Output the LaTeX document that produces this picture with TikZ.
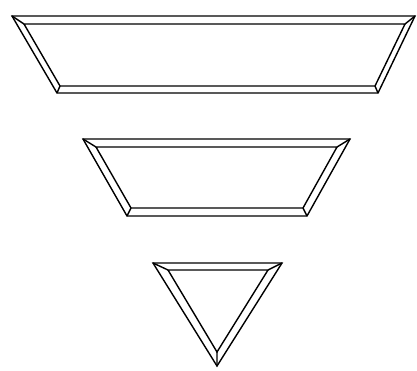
\documentclass[tikz,border=0pt]{standalone}
\begin{document}
\begin{tikzpicture}[x=1pt,y=-1pt,
  frame/.style={draw=black,line width=1.4pt,line join=miter}]
\useasboundingbox (0,0) rectangle (417,370);
% top trapezoid
\coordinate (a1) at (12,16); \coordinate (a2) at (415,16);
\coordinate (a3) at (378,93); \coordinate (a4) at (57,93);
\coordinate (b1) at (24,24); \coordinate (b2) at (405,24);
\coordinate (b3) at (375,86); \coordinate (b4) at (60,86);
\draw[frame] (a1) -- (a2) -- (a3) -- (a4) -- cycle;
\draw[frame] (b1) -- (b2) -- (b3) -- (b4) -- cycle;
\draw[frame] (a1) -- (b1) (a2) -- (b2) (a3) -- (b3) (a4) -- (b4);
% middle trapezoid
\coordinate (c1) at (83,139); \coordinate (c2) at (350,139);
\coordinate (c3) at (307,216); \coordinate (c4) at (127,216);
\coordinate (d1) at (96,147); \coordinate (d2) at (337,147);
\coordinate (d3) at (303,208); \coordinate (d4) at (131,208);
\draw[frame] (c1) -- (c2) -- (c3) -- (c4) -- cycle;
\draw[frame] (d1) -- (d2) -- (d3) -- (d4) -- cycle;
\draw[frame] (c1) -- (d1) (c2) -- (d2) (c3) -- (d3) (c4) -- (d4);
% triangle
\coordinate (e1) at (153,263); \coordinate (e2) at (282,263);
\coordinate (e3) at (217,366);
\coordinate (f1) at (168,270); \coordinate (f2) at (268,270);
\coordinate (f3) at (217,352);
\draw[frame] (e1) -- (e2) -- (e3) -- cycle;
\draw[frame] (f1) -- (f2) -- (f3) -- cycle;
\draw[frame] (e1) -- (f1) (e2) -- (f2) (e3) -- (f3);
\end{tikzpicture}
\end{document}
